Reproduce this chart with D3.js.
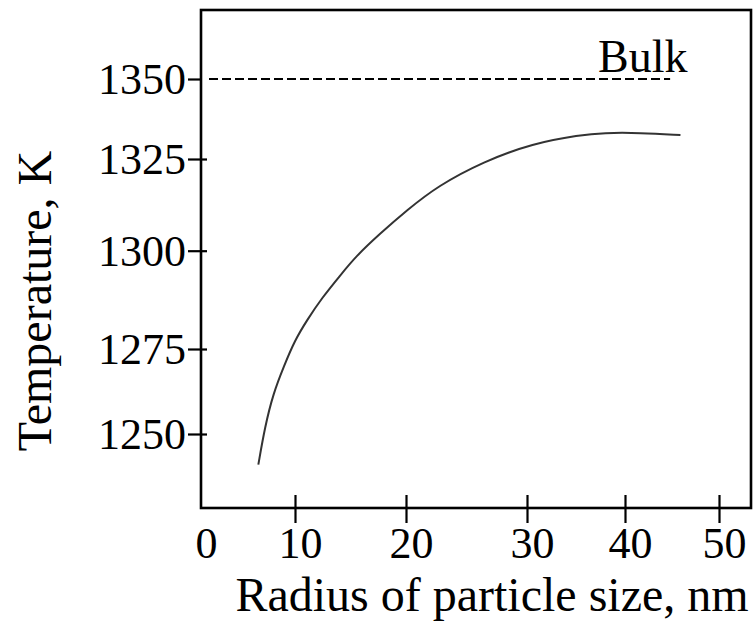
<!DOCTYPE html>
<html>
<head>
<meta charset="utf-8">
<script src="https://cdn.jsdelivr.net/npm/d3@7"></script>
<style>
  body {
    margin: 0;
    background: #fff;
  }

  svg {
    display: block;
    font-family: "Liberation Serif", "Times New Roman", serif;
  }

  .axis path {
    display: none;
  }

  .axis line {
    stroke: #000;
    stroke-width: 2.2px;
  }

  .axis text {
    fill: #000;
    font-size: 44px;
  }

  .frame {
    fill: none;
    stroke: #000;
    stroke-width: 2.6px;
  }

  .curve {
    fill: none;
    stroke: #333;
    stroke-width: 2px;
  }

  .bulk {
    stroke: #000;
    stroke-width: 2px;
    stroke-dasharray: 9 4;
  }

  .label {
    fill: #000;
    font-size: 46px;
  }

  .title {
    fill: #000;
    font-size: 48px;
  }
</style>
</head>
<body>
<script>
  // data
  var radius      = [6.1, 6.8, 7.7, 8.8, 10, 11.1, 12.4, 14.1, 15.5, 17.6, 20.1, 22.6, 26.4, 30.6, 35.4, 37.8, 41.6, 45.9];
  var temperature = [1240.9, 1252.1, 1262, 1269.8, 1277.3, 1282.4, 1287.9, 1293.8, 1298.6, 1304.5, 1311.1, 1317.6, 1324.3, 1329.9, 1332.5, 1333.2, 1333.2, 1332.5];

  var bulkTemp = 1350;
  var bulkRadius = [0, 44.8];

  var xTicks = [0, 10, 20, 30, 40, 50];
  var yTicks = [1250, 1275, 1300, 1325, 1350];

  // the original axes are hand-drawn and not evenly spaced,
  // so the scales run piecewise through the drawn tick marks
  var xDomain = [0, 10, 20, 30, 40, 50, 53.4],
      xStops  = [201, 295, 406, 527, 625, 719, 751];
  var yDomain = [1228, 1250, 1275, 1300, 1325, 1350, 1372],
      yStops  = [508, 434, 349, 250.7, 159, 79, 10];

  var width = 754, height = 624;

  var x = d3.scaleLinear().domain(xDomain).range(xStops);
  var y = d3.scaleLinear().domain(yDomain).range(yStops);

  var svg = d3.select("body").append("svg")
      .attr("width", width)
      .attr("height", height);

  var x0 = x(xDomain[0]), x1 = x(xDomain[xDomain.length - 1]);
  var y0 = y(yDomain[0]), y1 = y(yDomain[yDomain.length - 1]);

  // bulk reference line
  svg.append("line")
      .attr("class", "bulk")
      .attr("x1", x(bulkRadius[0]) + 8)
      .attr("x2", x(bulkRadius[1]))
      .attr("y1", y(bulkTemp))
      .attr("y2", y(bulkTemp));

  svg.append("text")
      .attr("class", "label")
      .attr("x", x(bulkRadius[1]) - 72)
      .attr("y", y(bulkTemp) - 7)
      .text("Bulk");

  // curve
  var pts = radius.map((r, i) => [r, temperature[i]]);

  svg.append("path")
      .datum(pts)
      .attr("class", "curve")
      .attr("d", d3.line()
        .x(d => x(d[0]))
        .y(d => y(d[1]))
        .curve(d3.curveBasis));

  // axes
  var xAxis = svg.append("g")
      .attr("class", "x axis")
      .attr("transform", `translate(0,${y0})`)
      .call(d3.axisBottom(x).tickValues(xTicks).tickSize(15).tickFormat(d3.format("d")))
      .attr("font-family", null)
      .attr("font-size", null);

  xAxis.selectAll("line").attr("y1", -13);
  xAxis.selectAll(".tick").filter(d => d === 0).select("line").remove();
  xAxis.selectAll("text")
      .attr("y", 50)
      .attr("dy", 0)
      .attr("dx", 5);

  var yAxis = svg.append("g")
      .attr("class", "y axis")
      .attr("transform", `translate(${x0},0)`)
      .call(d3.axisLeft(y).tickValues(yTicks).tickSize(13).tickFormat(d3.format("d")))
      .attr("font-family", null)
      .attr("font-size", null);

  yAxis.selectAll("line").attr("x1", 6);
  yAxis.selectAll(".tick").filter(d => d === bulkTemp).select("line").attr("x1", 0);
  yAxis.selectAll("text")
      .attr("x", -15)
      .attr("dy", "0.34em");

  // frame
  svg.append("rect")
      .attr("class", "frame")
      .attr("x", x0)
      .attr("y", y1)
      .attr("width", x1 - x0)
      .attr("height", y0 - y1);

  // titles
  svg.append("text")
      .attr("class", "title")
      .attr("text-anchor", "middle")
      .attr("x", 492)
      .attr("y", 611)
      .text("Radius of particle size, nm");

  svg.append("text")
      .attr("class", "title")
      .attr("text-anchor", "middle")
      .attr("transform", "translate(51,301) rotate(-90)")
      .text("Temperature, K");
</script>
</body>
</html>
